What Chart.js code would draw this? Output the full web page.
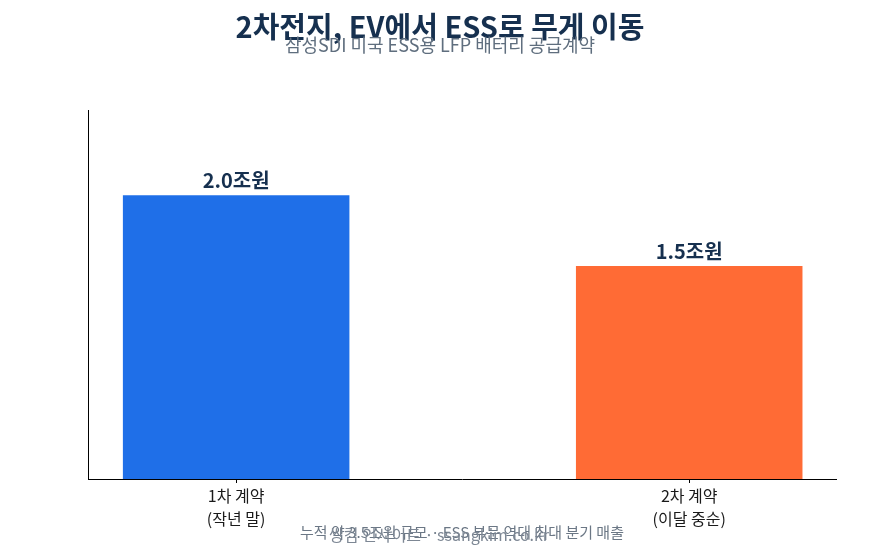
<!DOCTYPE html>
<html>
<head>
<meta charset="utf-8">
<script src="https://cdn.jsdelivr.net/npm/chart.js@4"></script>
<style>
  html, body { margin: 0; padding: 0; background: #fff; }
  #wrap { width: 880px; height: 550px; }
</style>
</head>
<body>
<div id="wrap"><canvas id="essChart" width="880" height="550"></canvas></div>
<script>
const categories = [['1차 계약', '(작년 말)'], ['2차 계약', '(이달 중순)']];
const values = [2.0, 1.5];
const valueLabels = ['2.0조원', '1.5조원'];
const barColors = ['#1f6fe8', '#ff6b35'];

const titleText = '2차전지, EV에서 ESS로 무게 이동';
const subtitleText = '삼성SDI 미국 ESS용 LFP 배터리 공급계약';
const footNote = '누적 약 3.5조원 규모 · ESS 부문 역대 최대 분기 매출';
const footSource = '쌍킴 인사이트 · ssangkim.co.kr';

const FONT = '"Noto Sans CJK KR", "Noto Sans", sans-serif';

const textPlugin = {
  id: 'texts',
  afterDraw(chart) {
    const c = chart.ctx;
    c.save();
    c.textAlign = 'center';
    c.textBaseline = 'middle';

    // bar value labels
    const meta = chart.getDatasetMeta(0);
    c.fillStyle = '#16304f';
    c.font = 'bold 20px ' + FONT;
    meta.data.forEach((bar, i) => {
      c.fillText(valueLabels[i], bar.x, bar.y - 15);
    });

    // title + subtitle
    c.fillStyle = '#16304f';
    c.font = 'bold 29px ' + FONT;
    c.fillText(titleText, 440, 27);
    c.fillStyle = '#5f6e7e';
    c.font = '18px ' + FONT;
    c.fillText(subtitleText, 440, 45);

    // footer (overlapping lines)
    c.fillStyle = '#6b7785';
    c.font = '15px ' + FONT;
    c.fillText(footNote, 462, 532);
    c.fillStyle = '#7d8794';
    c.font = '16px ' + FONT;
    c.fillText(footSource, 439, 535);
    c.restore();
  }
};

new Chart(document.getElementById('essChart').getContext('2d'), {
  type: 'bar',
  data: {
    labels: categories,
    datasets: [{
      data: values,
      backgroundColor: barColors,
      borderWidth: 0,
      categoryPercentage: 1,
      barPercentage: 0.5
    }]
  },
  options: {
    responsive: false,
    animation: false,
    layout: { padding: { top: 110, left: 88, right: 44, bottom: 11 } },
    plugins: {
      legend: { display: false },
      tooltip: { enabled: false }
    },
    scales: {
      x: {
        offset: false,
        grid: { drawOnChartArea: false, drawTicks: true, tickLength: 4, color: '#000', offset: false },
        border: { display: true, color: '#000', width: 1 },
        ticks: { color: '#1a1a1a', font: { family: FONT, size: 16, lineHeight: 1.42 }, padding: 2 },
        // leave matplotlib-like side margins around the two categories
        afterBuildTicks: axis => { axis._startValue = -0.327; axis._valueRange = 1.651; },
        afterFit: axis => { axis.height = 60; }
      },
      y: {
        min: 0,
        max: 2.6,
        grid: { display: false },
        border: { display: true, color: '#000', width: 1 },
        ticks: { display: false },
        afterFit: axis => { axis.width = 0; }
      }
    }
  },
  plugins: [textPlugin]
});
</script>
</body>
</html>
